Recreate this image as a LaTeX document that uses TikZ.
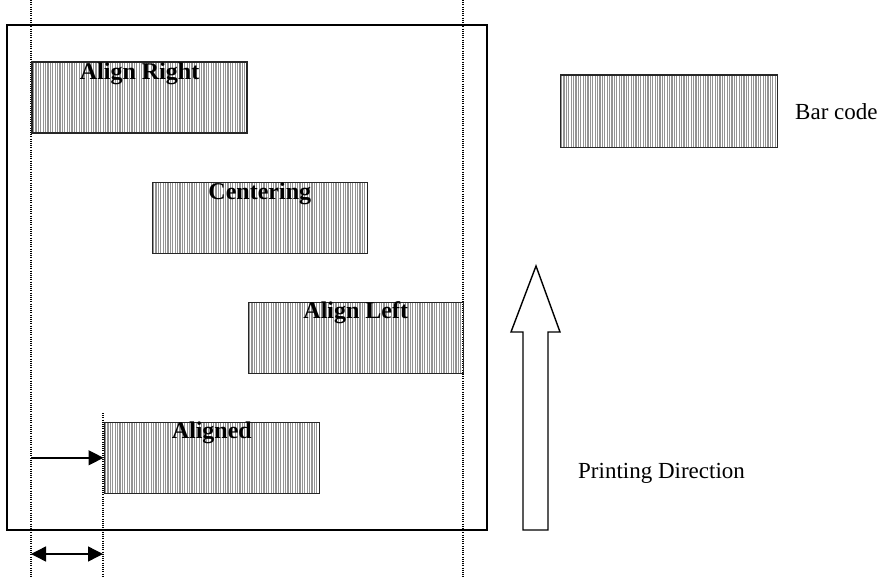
\documentclass[tikz,border=0pt]{standalone}
\usepackage{fontspec}
\setmainfont{Liberation Serif}
\usetikzlibrary{patterns.meta,arrows.meta,calc}
\begin{document}
\begin{tikzpicture}[x=1pt,y=-1pt,
  bar/.style={draw=black!85, line width=1.6pt, anchor=north west, inner sep=0pt,
    minimum width=215pt, minimum height=71pt,
    pattern={Lines[angle=90,distance=2.4pt,line width=1.3pt]}, pattern color=black!42},
  barlabel/.style={anchor=base, inner sep=0pt, font=\fontsize{24}{28}\selectfont\bfseries},
  plain/.style={anchor=base west, inner sep=0pt, font=\fontsize{23}{27}\selectfont},
  guide/.style={line width=1.1pt, dash pattern=on 1pt off 1.2pt},
  frame/.style={draw=black, line width=1.6pt},
  arr/.style={line width=1.4pt, -{Triangle[length=15pt,width=15pt]}},
  darr/.style={line width=1.4pt, {Triangle[length=15pt,width=15pt]}-{Triangle[length=15pt,width=15pt]}}
]
\useasboundingbox (0,0) rectangle (881,578);

% frame
\draw[frame] (7,25) rectangle (487,530);

% guide lines
\coordinate (g1t) at (31,0);   \coordinate (g1b) at (31,578);
\coordinate (g2t) at (103,413); \coordinate (g2b) at (103,578);
\coordinate (g3t) at (463,0);  \coordinate (g3b) at (463,578);
\draw[guide] (g1t) -- (g1b);
\draw[guide] (g2t) -- (g2b);
\draw[guide] (g3t) -- (g3b);

% bars
\node[bar] (right) at (31.5,61.5) {};
\node[bar] (center) at (151.5,181.5) {};
\node[bar] (left) at (247.5,301.5) {};
\node[bar] (aligned) at (103.5,421.5) {};
\node[bar, minimum width=217pt, minimum height=72pt] (sample) at (559.5,74.5) {};

\node[barlabel] (tright) at ($(right.north)+(0,18)$) {Align Right};
\node[barlabel] (tcenter) at ($(center.north)+(0,18)$) {Centering};
\node[barlabel] (tleft) at ($(left.north)+(0,17)$) {Align Left};
\node[barlabel] (taligned) at ($(aligned.north)+(0,17)$) {Aligned};

\node[plain] (tbar) at (795,119) {Bar code};
\node[plain] (tdir) at (578,478) {Printing Direction};

% arrows
\draw[arr] (g1t |- aligned.west) -- (aligned.west);
\coordinate (d1) at (31,554);
\coordinate (d2) at (103,554);
\draw[darr] (d1) -- (d2);

% hollow printing direction arrow
\draw[line width=1.4pt, line join=miter] (523,530) -- (523,332) -- (511,332) -- (536,266) -- (560,332) -- (548,332) -- (548,530) -- cycle;
\end{tikzpicture}
\end{document}
